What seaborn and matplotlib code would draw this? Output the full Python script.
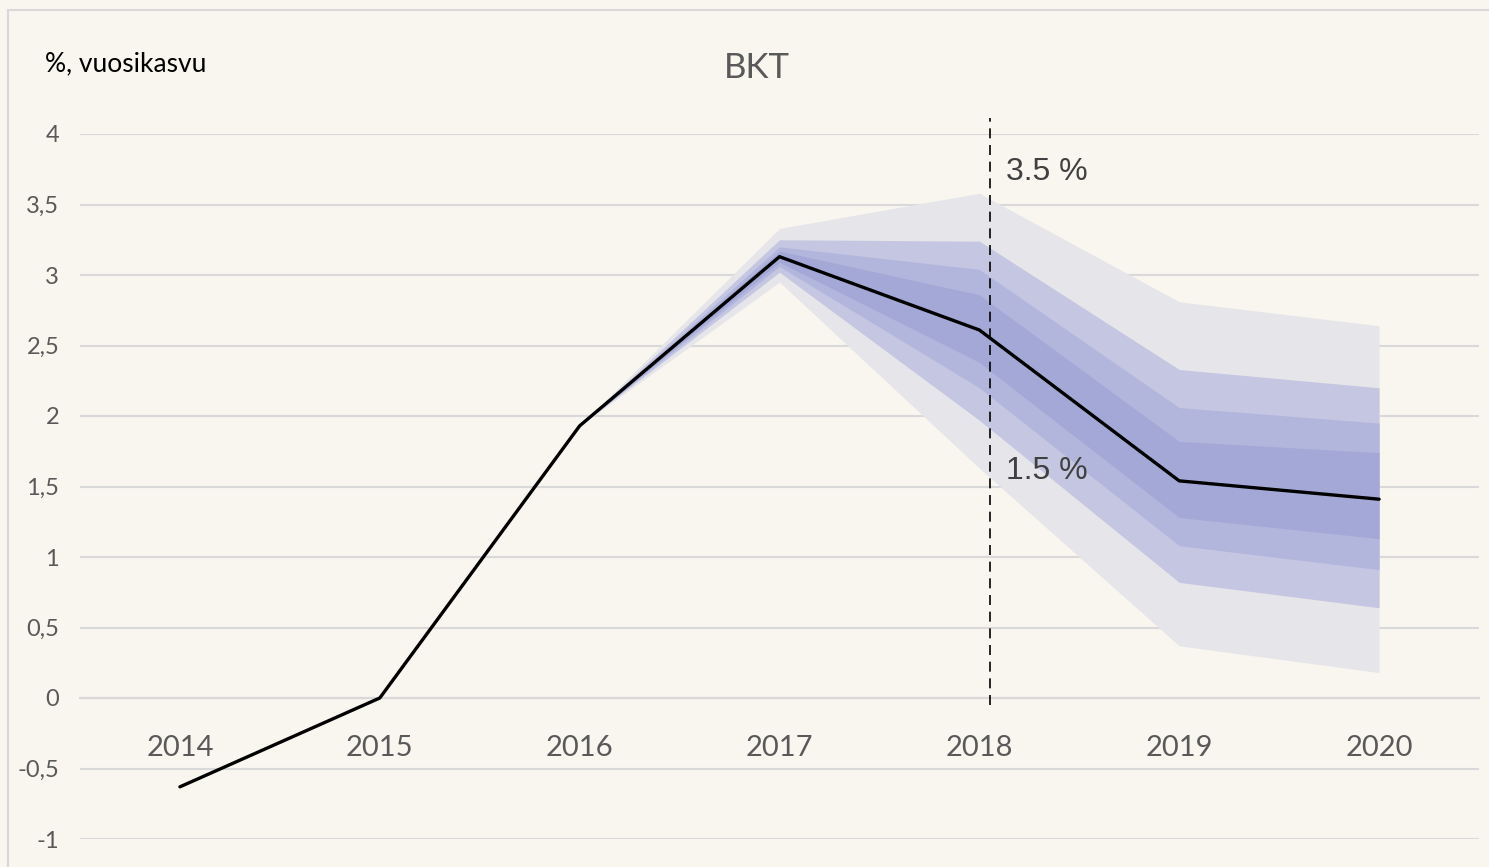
import matplotlib
matplotlib.use("Agg")
import matplotlib.pyplot as plt
from matplotlib.patches import Rectangle
from matplotlib.ticker import MultipleLocator, FuncFormatter
import seaborn as sns
import pandas as pd

# Data
years = [2014, 2015, 2016, 2017, 2018, 2019, 2020]
gdp_growth = [-0.63, 0.0, 1.93, 3.13, 2.61, 1.54, 1.41]

fan_years = [2016, 2017, 2018, 2019, 2020]
upper_90 = [1.93, 3.33, 3.58, 2.81, 2.64]
upper_70 = [1.93, 3.25, 3.24, 2.33, 2.20]
upper_50 = [1.93, 3.20, 3.04, 2.06, 1.95]
upper_30 = [1.93, 3.17, 2.86, 1.82, 1.74]
lower_30 = [1.93, 3.09, 2.38, 1.28, 1.13]
lower_50 = [1.93, 3.06, 2.20, 1.08, 0.91]
lower_70 = [1.93, 3.02, 1.97, 0.82, 0.64]
lower_90 = [1.93, 2.95, 1.63, 0.37, 0.18]

forecast_start = 2018.055
label_high = "3.5 %"
label_low = "1.5 %"

BG = "#F9F6F0"
GRID = "#D9D9D9"
TXT = "#595959"
NARROW = ["Liberation Sans Narrow", "Lato", "DejaVu Sans"]

sns.set_theme(style="white")
plt.rcParams["font.family"] = NARROW

df = pd.DataFrame({"year": years, "growth": gdp_growth})

fig = plt.figure(figsize=(14.89, 8.67), dpi=100, facecolor=BG)
ax = fig.add_axes([80 / 1489, 1 - 839 / 867, 1399 / 1489, 705 / 867])
ax.set_facecolor(BG)

# outer frame of the chart area
fig.patches.append(Rectangle((8 / 1489, -0.1), 1.2, 1 - 10 / 867 + 0.1,
                             transform=fig.transFigure, fill=False,
                             edgecolor="#D9D9D9", linewidth=1.5))

# fan bands, outermost first
bands = [
    (lower_90, upper_90, "#E6E5EA"),
    (lower_70, upper_70, "#C5C7E2"),
    (lower_50, upper_50, "#B3B6DC"),
    (lower_30, upper_30, "#A3A8D6"),
]
for lo, hi, col in bands:
    ax.fill_between(fan_years, lo, hi, color=col, linewidth=0, zorder=2)

sns.lineplot(data=df, x="year", y="growth", ax=ax, color="black",
             linewidth=2.4, zorder=4)

ax.vlines(forecast_start, -0.05, 4.11, colors="black", linestyles=(0, (6, 4)),
          linewidth=1.2, zorder=5, clip_on=False)

ax.text(forecast_start + 0.08, 3.73, label_high, fontsize=23, color="#404040",
        family="Liberation Sans", va="center", ha="left")
ax.text(forecast_start + 0.08, 1.61, label_low, fontsize=23, color="#404040",
        family="Liberation Sans", va="center", ha="left")

ax.set_xlim(2013.5, 2020.5)
ax.set_ylim(-1, 4)

ax.yaxis.set_major_locator(MultipleLocator(0.5))
ax.yaxis.set_major_formatter(FuncFormatter(lambda v, p: f"{v:g}".replace(".", ",")))
ax.grid(axis="y", color=GRID, linewidth=1.5, zorder=0)
ax.grid(axis="x", visible=False)
ax.set_axisbelow(True)

ax.set_xticks(years)
ax.set_xticklabels([str(y) for y in years])
ax.set_xticks([y - 0.5 for y in years] + [years[-1] + 0.5], minor=True)
ax.tick_params(axis="x", which="major", length=0, pad=27, labelsize=21, labelcolor=TXT)
ax.tick_params(axis="x", which="minor", length=9, width=1.5, color=GRID, direction="out")
ax.tick_params(axis="y", length=0, pad=15, labelsize=17, labelcolor=TXT)

for s in ["top", "right", "left"]:
    ax.spines[s].set_visible(False)
ax.spines["bottom"].set_position(("data", 0))
ax.spines["bottom"].set_color(GRID)
ax.spines["bottom"].set_linewidth(1.5)

ax.set_xlabel("")
ax.set_ylabel("")

fig.text(757 / 1489, 1 - 68 / 867, "BKT", fontsize=25, color=TXT,
         ha="center", va="center")
fig.text(45 / 1489, 1 - 64 / 867, "%, vuosikasvu", fontsize=19, color="black",
         ha="left", va="center")

fig.savefig("out.png", dpi=100, facecolor=BG)
